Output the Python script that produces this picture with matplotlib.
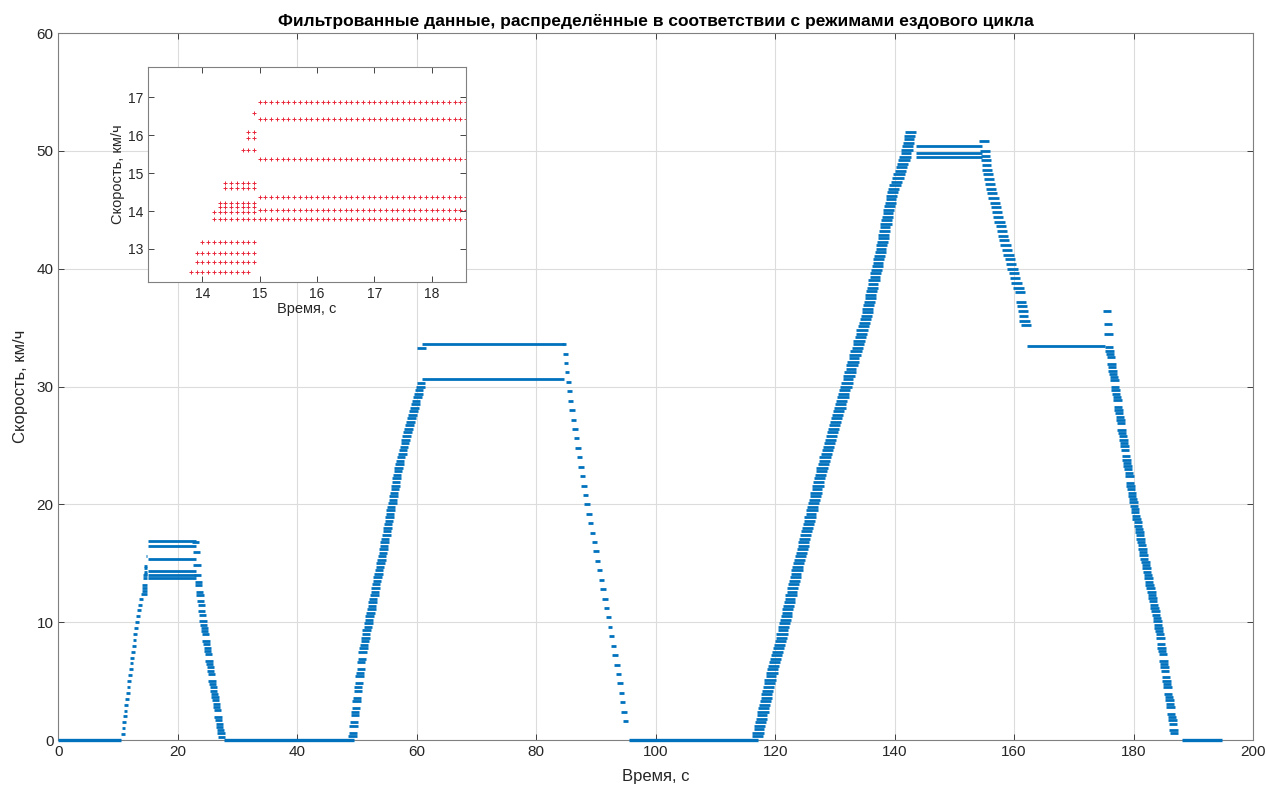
import numpy as np
import matplotlib.pyplot as plt

plt.rcParams['font.family'] = ['Liberation Sans', 'DejaVu Sans']

blue = '#0072BD'
dt = 0.1  # logger period, s

# stops, s
idle_start = [0.0, 27.7, 95.6, 188.2]
idle_end = [10.4, 49.4, 117.2, 194.8]

# cruise modes: time range and recorded speed levels, km/h
cruise_start = [15.0, 60.8, 143.6, 162.2]
cruise_end = [23.1, 84.7, 154.6, 175.3]
cruise_levels = [
    [13.78, 14.04, 14.38, 15.36, 16.43, 16.88],
    [30.65, 33.6],
    [49.5, 49.85, 50.4],
    [33.4],
]

# end of the first acceleration (rows seen just before the cruise)
trans_start = [13.8, 13.9, 13.9, 14.0, 14.2, 14.2, 14.3, 14.3, 14.4, 14.4, 14.7, 14.8, 14.8, 14.9]
trans_end = [14.8, 14.9, 14.9, 14.9, 14.9, 14.9, 14.9, 14.9, 14.9, 14.9, 14.9, 14.9, 14.9, 14.9]
trans_speed = [12.40, 12.65, 12.90, 13.18, 13.78, 13.98, 14.11, 14.22, 14.62, 14.74, 15.60, 15.93, 16.09, 16.58]

# acceleration / deceleration modes: speed profile knots
ramp_time = [
    [10.7, 12.4, 13.8],
    [23.0, 23.3, 24.2, 25.9, 27.3],
    [49.2, 50.9, 54.3, 57.1, 60.7, 60.8],
    [84.7, 85.5, 88.3, 91.05, 93.8, 95.0],
    [117.0, 119.0, 121.2, 123.4, 125.9, 127.9, 131.0, 135.2, 137.3, 139.6, 141.8, 142.6],
    [155.0, 155.3, 155.8, 156.9, 158.0, 159.2, 160.0, 161.1, 161.4, 162.0],
    [175.6, 175.9, 177.6, 179.8, 182.0, 184.3, 185.9, 186.8],
]
ramp_speed = [
    [0.3, 7.4, 12.2],
    [16.9, 14.0, 10.2, 4.5, 0.3],
    [0.3, 7.4, 15.9, 23.5, 30.3, 33.2],
    [33.4, 29.6, 20.6, 13.3, 5.5, 1.3],
    [0.3, 4.8, 9.1, 13.9, 19.0, 23.2, 28.5, 35.9, 40.7, 46.4, 49.5, 51.5],
    [50.7, 49.0, 47.5, 45.3, 43.0, 41.0, 39.4, 37.8, 36.5, 35.0],
    [36.4, 33.4, 27.7, 20.7, 15.0, 9.3, 3.7, 0.6],
]
ramp_step = [0.5, 0.28, 0.3, 0.8, 0.3, 0.4, 0.28]    # speed resolution, km/h
ramp_spread = [0.3, 0.6, 0.7, 0.35, 0.9, 0.8, 0.7]   # time scatter, s


def style(ax, fs):
    ax.tick_params(direction='in', top=True, right=True, labelsize=fs,
                   colors='#262626', length=4, width=0.6)
    for s in ax.spines.values():
        s.set_color('#808080')
        s.set_linewidth(0.8)


fig = plt.figure(figsize=(12.66, 7.87), dpi=100)
ax = fig.add_axes([0.0462, 0.0597, 0.9435, 0.8983])

ax.hlines(np.zeros(len(idle_start)), idle_start, idle_end, color=blue, lw=2.4,
          clip_on=False, zorder=3)

for t0, t1, lev in zip(cruise_start, cruise_end, cruise_levels):
    ax.hlines(lev, t0, t1, color=blue, lw=2.0)

ax.hlines(trans_speed, trans_start, trans_end, color=blue, lw=2.0)

for kt, kv, q, w in zip(ramp_time, ramp_speed, ramp_step, ramp_spread):
    t = np.arange(kt[0], kt[-1] + 1e-6, dt)
    v = np.round(np.interp(t, kt, kv) / q) * q
    for lv in np.unique(v):
        tt = t[v == lv]
        ax.hlines(lv, tt.min() - w, tt.max() + w, color=blue, lw=2.0)

ax.set_xlim(0, 200)
ax.set_ylim(0, 60)
ax.set_xticks(np.arange(0, 201, 20))
ax.set_yticks(np.arange(0, 61, 10))
ax.grid(True, color='#dcdcdc', lw=0.8)
ax.set_axisbelow(True)
style(ax, 11)
ax.set_title('Фильтрованные данные, распределённые в соответствии с режимами ездового цикла',
             fontsize=12.5, fontweight='bold', pad=5)
ax.set_xlabel('Время, с', fontsize=12, color='#262626', labelpad=7)
ax.set_ylabel('Скорость, км/ч', fontsize=12, color='#262626', labelpad=6)

# zoom on the start of the first cruise
ins = fig.add_axes([0.1169, 0.6417, 0.2512, 0.2732])
for t0, t1, lv in zip(trans_start, trans_end, trans_speed):
    t = np.arange(t0, t1 + 1e-6, dt)
    ins.plot(t, np.full(len(t), lv), '+', color='#e8283a', ms=3, mew=0.7)
for lv in cruise_levels[0]:
    t = np.arange(cruise_start[0], 18.6 + 1e-6, dt)
    ins.plot(t, np.full(len(t), lv), '+', color='#e8283a', ms=3, mew=0.7)
ins.set_xlim(13.05, 18.6)
ins.set_ylim(12.13, 17.8)
ins.set_xticks([14, 15, 16, 17, 18])
ins.set_yticks([13, 14, 15, 16, 17])
style(ins, 10)
ins.set_xlabel('Время, с', fontsize=10.5, color='#262626', labelpad=1)
ins.set_ylabel('Скорость, км/ч', fontsize=10.5, color='#262626', labelpad=2)

fig.savefig('out.png', dpi=100)
